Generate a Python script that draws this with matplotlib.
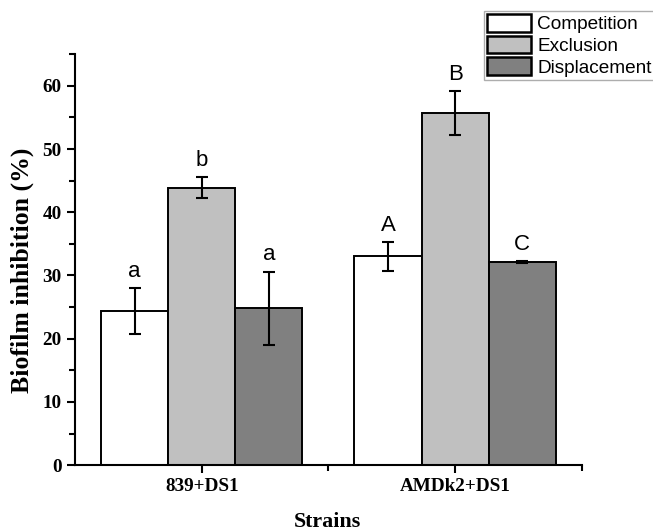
import matplotlib.pyplot as plt
import numpy as np
from matplotlib.ticker import MultipleLocator, FixedLocator

strains = ["839+DS1", "AMDk2+DS1"]
treatments = ["Competition", "Exclusion", "Displacement"]
colors = ["#ffffff", "#c0c0c0", "#808080"]

# mean and error for each treatment, per strain
means = {
    "Competition": [24.4, 33.0],
    "Exclusion": [43.9, 55.7],
    "Displacement": [24.8, 32.1],
}
errors = {
    "Competition": [3.6, 2.3],
    "Exclusion": [1.6, 3.5],
    "Displacement": [5.8, 0.2],
}
letters = {
    "Competition": ["a", "A"],
    "Exclusion": ["b", "B"],
    "Displacement": ["a", "C"],
}

serif = ["Liberation Serif", "DejaVu Serif"]
sans = ["Liberation Sans", "DejaVu Sans"]

fig = plt.figure(figsize=(6.53, 5.31), dpi=100)
ax = fig.add_axes([0.115, 0.124, 0.776, 0.774])

centers = np.array([1.0, 3.0])
width = 0.53
for i, t in enumerate(treatments):
    x = centers + (i - 1) * width
    ax.bar(x, means[t], width, color=colors[i], edgecolor="black",
           linewidth=1.4, label=t, zorder=2)
    ax.errorbar(x, means[t], yerr=errors[t], fmt="none", ecolor="black",
                elinewidth=1.5, capsize=4, capthick=1.5, zorder=3)
    for xi, m, e, s in zip(x, means[t], errors[t], letters[t]):
        ax.text(xi, m + e + 1.0, s, ha="center", va="bottom",
                fontsize=16, family=sans)

ax.set_xlim(0, 4)
ax.set_ylim(0, 65)
ax.xaxis.set_major_locator(FixedLocator(centers))
ax.xaxis.set_minor_locator(FixedLocator([2, 4]))
ax.set_xticklabels(strains)
ax.yaxis.set_major_locator(MultipleLocator(10))
ax.yaxis.set_minor_locator(MultipleLocator(5))

for side in ["top", "right"]:
    ax.spines[side].set_visible(False)
for side in ["left", "bottom"]:
    ax.spines[side].set_linewidth(1.5)

ax.tick_params(which="major", direction="out", length=6, width=1.5)
ax.tick_params(which="minor", direction="out", length=4, width=1.5)
for lab in ax.get_xticklabels() + ax.get_yticklabels():
    lab.set_family(serif)
    lab.set_fontweight("bold")
    lab.set_fontsize(13.8)

fig.text(22 / 653, 1 - 270 / 531, "Biofilm inhibition (%)", rotation=90,
         ha="center", va="center", family=serif, fontweight="bold",
         fontsize=18.5)
fig.text(327 / 653, 1 - 522 / 531, "Strains", ha="center", va="center",
         family=serif, fontweight="bold", fontsize=15.8)

leg = ax.legend(loc="upper left", bbox_to_anchor=(484 / 653, 1 - 11 / 531),
                bbox_transform=fig.transFigure,
                prop={"family": sans, "size": 13.7}, frameon=True,
                fancybox=False, handlelength=2.3, handleheight=1.07,
                handletextpad=0.35, labelspacing=0.12, borderpad=0.15,
                borderaxespad=0)
leg.get_frame().set_edgecolor("#999999")
leg.get_frame().set_linewidth(1.0)
for p in leg.get_patches():
    p.set_linewidth(1.8)

fig.savefig("out.png", dpi=100)
